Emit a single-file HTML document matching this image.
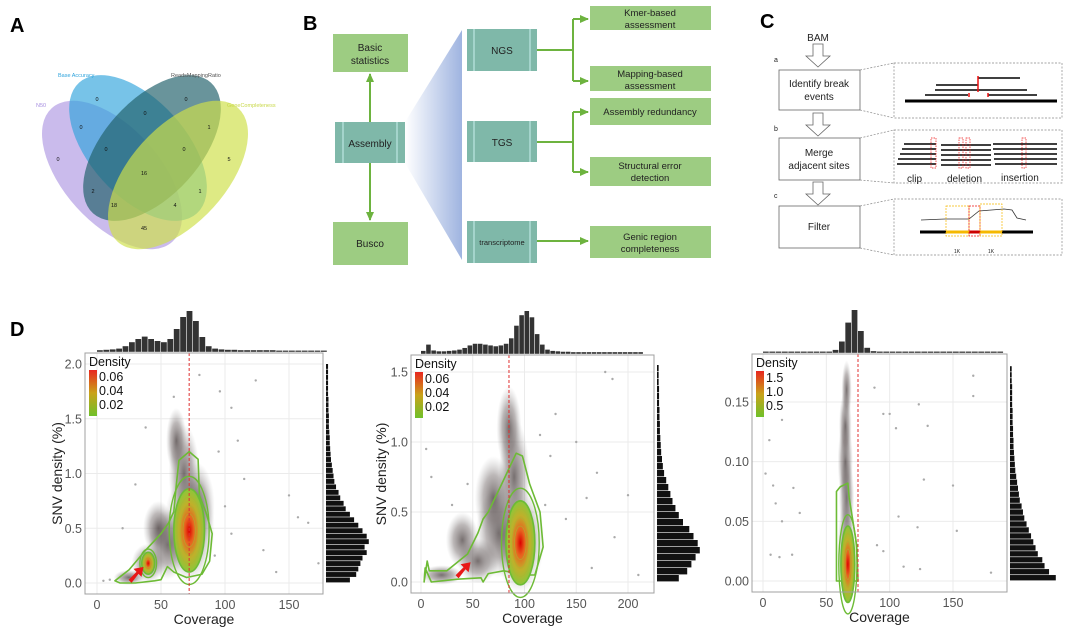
<!DOCTYPE html>
<html><head><meta charset="utf-8"><style>
body{margin:0;background:#fff;font-family:"Liberation Sans",sans-serif}
svg text{font-family:"Liberation Sans",sans-serif}
</style></head><body>
<svg id="fig" width="1080" height="631" viewBox="0 0 1080 631">
<defs>
<linearGradient id="funnel" x1="0" x2="1" y1="0" y2="0"><stop offset="0" stop-color="#fff"/><stop offset="1" stop-color="#9fb4e0"/></linearGradient>
<linearGradient id="cbar" x1="0" x2="0" y1="0" y2="1"><stop offset="0" stop-color="#e8261e"/><stop offset=".5" stop-color="#c9a21a"/><stop offset="1" stop-color="#6fc02a"/></linearGradient>
<radialGradient id="hot"><stop offset="0" stop-color="#d00"/><stop offset=".3" stop-color="#e8601e"/><stop offset=".65" stop-color="#c0b02a"/><stop offset="1" stop-color="#8cc63a"/></radialGradient>
<radialGradient id="cloud"><stop offset="0" stop-color="#4a4040" stop-opacity=".75"/><stop offset=".55" stop-color="#6a6060" stop-opacity=".45"/><stop offset="1" stop-color="#999" stop-opacity="0"/></radialGradient>
<marker id="arr" markerUnits="userSpaceOnUse" markerWidth="10" markerHeight="10" refX="8" refY="5" orient="auto"><path d="M0,1 L9,5 L0,9 z" fill="#6db33f"/></marker>
</defs>

<text x="10" y="32" font-size="20" font-weight="bold">A</text>
<text x="303" y="30" font-size="20" font-weight="bold">B</text>
<text x="760" y="28" font-size="20" font-weight="bold">C</text>
<text x="10" y="336" font-size="20" font-weight="bold">D</text>

<!-- Panel A Venn -->
<g>
<ellipse cx="112" cy="175" rx="90" ry="48" transform="rotate(48 112 175)" fill="#a78ee0" fill-opacity=".6"/>
<ellipse cx="138" cy="148" rx="88" ry="48" transform="rotate(48 138 148)" fill="#2ea3dc" fill-opacity=".65"/>
<ellipse cx="152" cy="148" rx="88" ry="48" transform="rotate(-48 152 148)" fill="#22616b" fill-opacity=".68"/>
<ellipse cx="178" cy="175" rx="90" ry="48" transform="rotate(-48 178 175)" fill="#cfe04a" fill-opacity=".68"/>
<text x="36" y="107" font-size="5.5" fill="#a78ee0">N50</text>
<text x="58" y="77" font-size="5.5" fill="#2ea3dc">Base Accuracy</text>
<text x="171" y="77" font-size="5.5" fill="#555">ReadsMappingRatio</text>
<text x="227" y="107" font-size="5.5" fill="#c8d848">GeneCompleteness</text>
<g font-size="5.5" fill="#111" text-anchor="middle">
<text x="97" y="101">0</text><text x="186" y="101">0</text><text x="81" y="129">0</text><text x="145" y="115">0</text><text x="209" y="129">1</text>
<text x="58" y="161">0</text><text x="106" y="151">0</text><text x="184" y="151">0</text><text x="229" y="161">5</text>
<text x="144" y="175">16</text><text x="93" y="193">2</text><text x="200" y="193">1</text><text x="114" y="207">18</text><text x="175" y="207">4</text><text x="144" y="230">45</text>
</g></g>

<!-- Panel B -->
<g font-size="10" fill="#222">
<polygon points="405,122 462,30 462,260 405,163" fill="url(#funnel)"/>
<rect x="333" y="34" width="75" height="38" fill="#9dcc82"/>
<text x="370" y="51" text-anchor="middle">Basic</text><text x="370" y="64" text-anchor="middle">statistics</text>
<rect x="335" y="122" width="70" height="41" fill="#7fb8a9"/>
<line x1="343" y1="122" x2="343" y2="163" stroke="#dff" stroke-width=".8"/><line x1="397" y1="122" x2="397" y2="163" stroke="#dff" stroke-width=".8"/>
<text x="370" y="147" text-anchor="middle">Assembly</text>
<rect x="333" y="222" width="75" height="43" fill="#9dcc82"/>
<text x="370" y="247" text-anchor="middle">Busco</text>
<line x1="370" y1="122" x2="370" y2="74" stroke="#6db33f" stroke-width="2" marker-end="url(#arr)"/>
<line x1="370" y1="163" x2="370" y2="220" stroke="#6db33f" stroke-width="2" marker-end="url(#arr)"/>
<g fill="#7fb8a9">
<rect x="467" y="29" width="70" height="42"/>
<rect x="467" y="121" width="70" height="41"/>
<rect x="467" y="221" width="70" height="42"/></g>
<g stroke="#dff" stroke-width=".8"><line x1="474" y1="29" x2="474" y2="71"/><line x1="530" y1="29" x2="530" y2="71"/><line x1="474" y1="121" x2="474" y2="162"/><line x1="530" y1="121" x2="530" y2="162"/><line x1="474" y1="221" x2="474" y2="263"/><line x1="530" y1="221" x2="530" y2="263"/></g>
<text x="502" y="54" text-anchor="middle">NGS</text><text x="502" y="146" text-anchor="middle">TGS</text><text x="502" y="245" text-anchor="middle" font-size="7.5">transcriptome</text>
<g fill="#9dcc82">
<rect x="590" y="6" width="121" height="24"/>
<rect x="590" y="66" width="121" height="25"/>
<rect x="590" y="98" width="121" height="27"/>
<rect x="590" y="157" width="121" height="29"/>
<rect x="590" y="226" width="121" height="32"/></g>
<g text-anchor="middle" font-size="9.5">
<text x="650" y="16">Kmer-based</text><text x="650" y="28">assessment</text>
<text x="650" y="77">Mapping-based</text><text x="650" y="89">assessment</text>
<text x="650" y="115">Assembly redundancy</text>
<text x="650" y="169">Structural error</text><text x="650" y="181">detection</text>
<text x="650" y="240">Genic region</text><text x="650" y="252">completeness</text></g>
<g stroke="#6db33f" stroke-width="2" fill="none">
<path d="M537,50 H573 M573,19 V81"/><path d="M573,19 H588" marker-end="url(#arr)"/><path d="M573,81 H588" marker-end="url(#arr)"/>
<path d="M537,142 H573 M573,112 V172"/><path d="M573,112 H588" marker-end="url(#arr)"/><path d="M573,172 H588" marker-end="url(#arr)"/>
<path d="M537,241 H588" marker-end="url(#arr)"/></g>
</g>

<!-- Panel C -->
<g font-size="10" fill="#222">
<text x="818" y="41" text-anchor="middle">BAM</text>
<g fill="#fff" stroke="#666" stroke-width=".8">
<path d="M813,44 h10 v12 h7 l-12,11 l-12,-11 h7 z"/>
<path d="M813,113 h10 v12 h7 l-12,11 l-12,-11 h7 z"/>
<path d="M813,182 h10 v12 h7 l-12,11 l-12,-11 h7 z"/>
<rect x="779" y="70" width="81" height="40"/>
<rect x="779" y="138" width="81" height="42"/>
<rect x="779" y="206" width="81" height="42"/></g>
<text x="774" y="62" font-size="7">a</text><text x="774" y="131" font-size="7">b</text><text x="774" y="198" font-size="7">c</text>
<text x="819" y="87" text-anchor="middle">Identify break</text><text x="819" y="100" text-anchor="middle">events</text>
<text x="819" y="156" text-anchor="middle">Merge</text><text x="819" y="169" text-anchor="middle">adjacent sites</text>
<text x="819" y="230" text-anchor="middle">Filter</text>
<g fill="none" stroke="#888" stroke-width=".7" stroke-dasharray="2,1.5">
<rect x="894" y="63" width="168" height="55"/><rect x="894" y="130" width="168" height="53"/><rect x="894" y="199" width="168" height="56"/>
<path d="M860,70 L894,63 M860,110 L894,118 M860,138 L894,130 M860,180 L894,183 M860,206 L894,199 M860,248 L894,255"/></g>
<g stroke="#000"><line x1="905" y1="101" x2="1057" y2="101" stroke-width="3"/><line x1="925" y1="95" x2="968" y2="95" stroke-width="1.5"/><line x1="935" y1="90" x2="1027" y2="90" stroke-width="1.5"/><line x1="936" y1="85" x2="978" y2="85" stroke-width="1.5"/><line x1="978" y1="78" x2="1020" y2="78" stroke-width="1.5"/><line x1="988" y1="95" x2="1037" y2="95" stroke-width="1.5"/></g>
<g stroke="#e11" stroke-width="1.5"><line x1="978" y1="76" x2="978" y2="92"/><line x1="969" y1="93" x2="969" y2="97"/><line x1="988" y1="93" x2="988" y2="97"/></g>
<g stroke="#000" stroke-width="1.5">
<path d="M904,144h32M902,149h34M900,154h36M898,159h38M897,164h39"/>
<path d="M941,145h50M941,150h50M941,155h50M941,160h50M941,165h50"/>
<path d="M993,144h64M993,149h64M994,154h63M994,159h63M995,164h62"/></g>
<g fill="none" stroke="#e11" stroke-width=".7" stroke-dasharray="1.5,1"><rect x="931" y="138" width="5" height="30"/><rect x="959" y="138" width="4" height="30"/><rect x="966" y="138" width="4" height="30"/><rect x="1022" y="138" width="4" height="30"/></g>
<text x="907" y="182" font-size="10">clip</text><text x="947" y="182" font-size="10">deletion</text><text x="1001" y="181" font-size="10">insertion</text>
<path d="M921,220 L945,219 L969,219 L979,211 L1004,209 L1012,210 L1017,218 L1026,220" fill="none" stroke="#333" stroke-width=".8"/>
<line x1="920" y1="232" x2="1033" y2="232" stroke="#000" stroke-width="3"/>
<line x1="946" y1="232" x2="969" y2="232" stroke="#f5b800" stroke-width="3"/><line x1="969" y1="232" x2="980" y2="232" stroke="#c00" stroke-width="3"/><line x1="980" y1="232" x2="1002" y2="232" stroke="#f5b800" stroke-width="3"/>
<g fill="none" stroke-dasharray="2,1" stroke-width=".7"><rect x="946" y="206" width="23" height="30" stroke="#f5b800"/><rect x="969" y="206" width="11" height="30" stroke="#e11"/><rect x="980" y="204" width="22" height="32" stroke="#f5b800"/></g>
<text x="957" y="253" font-size="5" text-anchor="middle">1K</text><text x="991" y="253" font-size="5" text-anchor="middle">1K</text>
</g>

<g id="d1"></g>
<g id="d2"></g>
<g id="d3"></g>
</svg>
<script>
// ---- Panel D1 data ----
const d1XTicks=[0,50,100,150];
const d1YTicks=[0.0,0.5,1.0,1.5,2.0];
const d1YTickLabels=["0.0","0.5","1.0","1.5","2.0"];
const d1Legend=["0.06","0.04","0.02"];
const d1TopHist=[0.02,0.03,0.04,0.06,0.12,0.22,0.3,0.36,0.3,0.25,0.22,0.3,0.55,0.85,1.0,0.75,0.35,0.12,0.06,0.04,0.03,0.03,0.02,0.02,0.02,0.02,0.02,0.02,0.01,0.01,0.01,0.01,0.01,0.01,0.01,0.01];
const d1RightHist=[0.55,0.7,0.75,0.8,0.85,0.95,0.9,1.0,0.95,0.85,0.75,0.65,0.55,0.45,0.4,0.32,0.28,0.22,0.18,0.16,0.14,0.12,0.1,0.09,0.08,0.07,0.07,0.06,0.05,0.05,0.05,0.04,0.04,0.04,0.03,0.03,0.03,0.03,0.03,0.03];
const d1CloudX=[72,40,55,25,68,62,78,48];
const d1CloudY=[0.5,0.18,0.35,0.05,1.0,1.3,0.7,0.5];
const d1CloudSX=[20,13,15,12,12,8,14,12];
const d1CloudSY=[0.5,0.18,0.32,0.07,0.45,0.3,0.4,0.25];
const d1HotX=[72,40];
const d1HotY=[0.48,0.18];
const d1HotRX=[12,5];
const d1HotRY=[0.38,0.1];
const d1OuterX=[14,25,38,50,56,60,62,64,72,79,80,85,90,88,82,70,60,55,50,45,30,18];
const d1OuterY=[0.02,0.12,0.3,0.45,0.55,0.65,0.9,1.12,1.2,1.13,0.8,0.65,0.45,0.2,0.08,0.05,0.1,0.15,0.03,0.02,0.0,0.0];
const d1Outliers=[[38,1.42],[96,1.75],[124,1.85],[105,1.6],[150,0.8],[157,0.6],[165,0.55],[173,0.18],[130,0.3],[115,0.95],[5,0.02],[10,0.03],[140,0.1],[80,1.9],[60,1.7],[110,1.3],[95,1.2],[100,0.7],[105,0.45],[92,0.25],[20,0.5],[30,0.9]];
const d1Vline=72;

// ---- Panel D2 data ----
const d2XTicks=[0,50,100,150,200];
const d2YTicks=[0.0,0.5,1.0,1.5];
const d2YTickLabels=["0.0","0.5","1.0","1.5"];
const d2Legend=["0.06","0.04","0.02"];
const d2TopHist=[0.05,0.2,0.06,0.04,0.04,0.05,0.06,0.08,0.12,0.18,0.22,0.22,0.2,0.18,0.16,0.18,0.22,0.35,0.65,0.9,1.0,0.85,0.45,0.2,0.08,0.05,0.04,0.03,0.03,0.02,0.02,0.02,0.02,0.02,0.02,0.02,0.02,0.02,0.02,0.02,0.02,0.02,0.02];
const d2RightHist=[0.5,0.7,0.8,0.9,1.0,0.95,0.85,0.75,0.6,0.5,0.42,0.35,0.3,0.25,0.2,0.15,0.12,0.1,0.08,0.07,0.06,0.05,0.05,0.04,0.04,0.03,0.03,0.03,0.02,0.02,0.02];
const d2CloudX=[95,55,75,20,90,85,70,40];
const d2CloudY=[0.3,0.15,0.35,0.05,0.75,1.1,0.6,0.3];
const d2CloudSX=[24,20,22,20,15,12,18,16];
const d2CloudSY=[0.38,0.16,0.32,0.07,0.42,0.3,0.3,0.2];
const d2HotX=[96];
const d2HotY=[0.28];
const d2HotRX=[14];
const d2HotRY=[0.3];
const d2OuterX=[3,6,8,25,45,55,60,65,78,92,98,105,115,118,110,100,80,65,60,58,35,10,4];
const d2OuterY=[0.0,0.15,0.08,0.08,0.2,0.35,0.45,0.5,0.7,0.92,0.9,0.7,0.5,0.25,0.05,0.05,0.08,0.06,0.0,0.03,0.02,0.0,0.1];
const d2Outliers=[[178,1.5],[185,1.45],[200,0.62],[170,0.78],[160,0.6],[187,0.32],[140,0.45],[150,1.0],[130,1.2],[5,0.95],[10,0.75],[120,0.55],[210,0.05],[165,0.1],[125,0.9],[115,1.05],[30,0.55],[45,0.7]];
const d2Vline=85;

// ---- Panel D3 data ----
const d3XTicks=[0,50,100,150];
const d3YTicks=[0.0,0.05,0.10,0.15];
const d3YTickLabels=["0.00","0.05","0.10","0.15"];
const d3Legend=["1.5","1.0","0.5"];
const d3TopHist=[0.01,0.01,0.01,0.01,0.01,0.01,0.01,0.01,0.01,0.01,0.01,0.05,0.25,0.7,1.0,0.5,0.1,0.02,0.01,0.01,0.01,0.01,0.01,0.01,0.01,0.01,0.01,0.01,0.01,0.01,0.01,0.01,0.01,0.01,0.01,0.01,0.01,0.01];
const d3RightHist=[1.0,0.85,0.75,0.7,0.6,0.55,0.5,0.45,0.4,0.35,0.3,0.27,0.24,0.2,0.18,0.16,0.14,0.12,0.1,0.09,0.08,0.07,0.06,0.06,0.05,0.05,0.04,0.04,0.04,0.03,0.03,0.03,0.03,0.02,0.02,0.02];
const d3CloudX=[66,66,65,65,66];
const d3CloudY=[0.03,0.07,0.1,0.13,0.16];
const d3CloudSX=[7,6,6,5,4];
const d3CloudSY=[0.04,0.035,0.035,0.03,0.025];
const d3HotX=[67];
const d3HotY=[0.014];
const d3HotRX=[5.5];
const d3HotRY=[0.032];
const d3OuterX=[58,58,61,67,68,74,75,58];
const d3OuterY=[0.0,0.075,0.079,0.082,0.07,0.03,0.0,0.0];
const d3Outliers=[[5,0.118],[15,0.135],[2,0.09],[8,0.08],[10,0.065],[15,0.05],[24,0.078],[29,0.057],[6,0.022],[13,0.02],[23,0.022],[88,0.162],[95,0.14],[100,0.14],[105,0.128],[130,0.13],[123,0.148],[127,0.085],[150,0.08],[166,0.172],[166,0.155],[153,0.042],[122,0.045],[107,0.054],[90,0.03],[95,0.025],[180,0.007],[111,0.012],[124,0.01]];
const d3Vline=75;

const NS="http://www.w3.org/2000/svg";
function mk(parent,tag,attrs){const e=document.createElementNS(NS,tag);for(const k in attrs)e.setAttribute(k,attrs[k]);parent.appendChild(e);return e;}

function drawPanel(g,cfg){
  const X=v=>cfg.x0px+(v-cfg.xmin)*(cfg.x1px-cfg.x0px)/(cfg.xmax-cfg.xmin);
  const Y=v=>cfg.y0px-(v-cfg.ymin)*(cfg.y0px-cfg.y1px)/(cfg.ymax-cfg.ymin);
  const sx=Math.abs(X(1)-X(0)), sy=Math.abs(Y(1)-Y(0));
  const bg=mk(g,'rect',{x:cfg.left,y:cfg.top,width:cfg.right-cfg.left,height:cfg.bottom-cfg.top,fill:'#fff'});
  
  
  cfg.xTicks.forEach(t=>{const l=mk(g,'line',{x1:X(t),x2:X(t),y1:cfg.top,y2:cfg.bottom,stroke:'#ebebeb','stroke-width':1});
    
    });
  cfg.yTicks.forEach(t=>{const l=mk(g,'line',{x1:cfg.left,x2:cfg.right,y1:Y(t),y2:Y(t),stroke:'#ebebeb','stroke-width':1});
    
    });
  cfg.cloudX.forEach((cx,i)=>{const e=mk(g,'ellipse',{cx:X(cx),cy:Y(cfg.cloudY[i]),rx:cfg.cloudSX[i]*sx,ry:cfg.cloudSY[i]*sy,fill:'url(#cloud)'});
    
    });
  cfg.outliers.forEach(p=>{const c=mk(g,'circle',{cx:X(p[0]),cy:Y(p[1]),r:1.2,fill:'#aaa'});
    
    });
  const pts=cfg.outerX.map((x,i)=>X(x)+','+Y(cfg.outerY[i])).join(' ');
  const pg=mk(g,'polygon',{points:pts,fill:'none',stroke:'#6dbb35','stroke-width':1.6,'stroke-linejoin':'round'});
  
  
  cfg.hotX.forEach((hx,i)=>{
    const cx=X(hx),cy=Y(cfg.hotY[i]),rx=cfg.hotRX[i]*sx,ry=cfg.hotRY[i]*sy;
    const e=mk(g,'ellipse',{cx,cy,rx,ry,fill:'url(#hot)',stroke:'#6dbb35','stroke-width':1.6});
    
    
    [0.8,0.6,0.4].forEach(f=>{const r=mk(g,'ellipse',{cx,cy,rx:rx*f,ry:ry*f,fill:'none',stroke:'#a8b630','stroke-width':.7,'stroke-opacity':.7});
      
      });
    const r2=mk(g,'ellipse',{cx,cy,rx:rx*1.3,ry:ry*1.3,fill:'none',stroke:'#6dbb35','stroke-width':1.4});
    
    
  });
  const vl=mk(g,'line',{x1:X(cfg.vline),x2:X(cfg.vline),y1:cfg.top,y2:cfg.bottom,stroke:'#e03030','stroke-width':1,'stroke-dasharray':'3,2'});
  
  
  if(cfg.arrow){const a=cfg.arrow;const ax=X(a[0]),ay=Y(a[1]);
    const ar=mk(g,'path',{d:`M${ax-12},${ay+10} L${ax-4},${ay+2} L${ax-7},${ay-1} L${ax+3},${ay-3} L${ax+1},${ay+7} L${ax-2},${ay+4} L${ax-9},${ay+13} z`,fill:'#e81818'});
    
    }
  const fr=mk(g,'rect',{x:cfg.left,y:cfg.top,width:cfg.right-cfg.left,height:cfg.bottom-cfg.top,fill:'none',stroke:'#a0a0a0','stroke-width':1});
  
  
  cfg.xTicks.forEach(t=>{const tx=mk(g,'text',{x:X(t),y:cfg.bottom+15,'font-size':12.5,fill:'#555','text-anchor':'middle'});tx.textContent=t;
    
    });
  cfg.yTicks.forEach((t,i)=>{const tx=mk(g,'text',{x:cfg.left-3,y:Y(t)+4.5,'font-size':12.5,fill:'#555','text-anchor':'end'});tx.textContent=cfg.yTickLabels[i];
    
    });
  const xt=mk(g,'text',{x:(cfg.left+cfg.right)/2,y:cfg.bottom+30,'font-size':14,fill:'#222','text-anchor':'middle'});xt.textContent='Coverage';
  
  
  if(cfg.ytitle){const yt=mk(g,'text',{x:0,y:0,'font-size':14,fill:'#222','text-anchor':'middle',transform:`translate(${cfg.ytitleX},${(cfg.top+cfg.bottom)/2}) rotate(-90)`});yt.textContent='SNV density (%)';
    
    }
  const lx=cfg.left+4, ly=cfg.top+2;
  const lt=mk(g,'text',{x:lx,y:ly+11,'font-size':12.5,fill:'#111'});lt.textContent='Density';
  
  
  const cb=mk(g,'rect',{x:lx,y:ly+15,width:8,height:46,fill:'url(#cbar)'});
  
  
  cfg.legend.forEach((s,i)=>{const t=mk(g,'text',{x:lx+10,y:ly+26+i*14,'font-size':12.5,fill:'#111'});t.textContent=s;
    
    });
  const bw=(X(cfg.topBin)-X(0));
  cfg.topHist.forEach((h,i)=>{const x=X(i*cfg.topBin);const hh=h*cfg.topH;
    const r=mk(g,'rect',{x:x,y:cfg.top-2-hh,width:Math.max(bw-0.6,0.5),height:hh+0.8,fill:'#333'});
    
    });
  const bh=Math.abs(Y(cfg.rightBin)-Y(0));
  cfg.rightHist.forEach((h,i)=>{const y=Y((i+1)*cfg.rightBin);const ww=h*cfg.rightW;
    const r=mk(g,'rect',{x:cfg.right+3,y:y,width:ww+0.8,height:Math.max(bh-0.6,0.5),fill:'#111'});
    
    });
}

drawPanel(document.getElementById('d1'),{left:85,right:323,top:353,bottom:594,x0px:97,x1px:289,xmin:0,xmax:150,y0px:583,y1px:364,ymin:0,ymax:2,
 xTicks:d1XTicks,yTicks:d1YTicks,yTickLabels:d1YTickLabels,legend:d1Legend,topHist:d1TopHist,rightHist:d1RightHist,topBin:5,rightBin:0.05,topH:40,rightW:42,
 cloudX:d1CloudX,cloudY:d1CloudY,cloudSX:d1CloudSX,cloudSY:d1CloudSY,hotX:d1HotX,hotY:d1HotY,hotRX:d1HotRX,hotRY:d1HotRY,outerX:d1OuterX,outerY:d1OuterY,outliers:d1Outliers,vline:d1Vline,arrow:[34,0.12],ytitle:true,ytitleX:62});
drawPanel(document.getElementById('d2'),{left:411,right:654,top:355,bottom:593,x0px:421,x1px:628,xmin:0,xmax:200,y0px:582,y1px:372,ymin:0,ymax:1.5,
 xTicks:d2XTicks,yTicks:d2YTicks,yTickLabels:d2YTickLabels,legend:d2Legend,topHist:d2TopHist,rightHist:d2RightHist,topBin:5,rightBin:0.05,topH:42,rightW:42,
 cloudX:d2CloudX,cloudY:d2CloudY,cloudSX:d2CloudSX,cloudSY:d2CloudSY,hotX:d2HotX,hotY:d2HotY,hotRX:d2HotRX,hotRY:d2HotRY,outerX:d2OuterX,outerY:d2OuterY,outliers:d2Outliers,vline:d2Vline,arrow:[45,0.12],ytitle:true,ytitleX:386});
drawPanel(document.getElementById('d3'),{left:752,right:1007,top:354,bottom:592,x0px:763,x1px:953,xmin:0,xmax:150,y0px:581,y1px:402,ymin:0,ymax:0.15,
 xTicks:d3XTicks,yTicks:d3YTicks,yTickLabels:d3YTickLabels,legend:d3Legend,topHist:d3TopHist,rightHist:d3RightHist,topBin:5,rightBin:0.005,topH:42,rightW:45,
 cloudX:d3CloudX,cloudY:d3CloudY,cloudSX:d3CloudSX,cloudSY:d3CloudSY,hotX:d3HotX,hotY:d3HotY,hotRX:d3HotRX,hotRY:d3HotRY,outerX:d3OuterX,outerY:d3OuterY,outliers:d3Outliers,vline:d3Vline,arrow:null,ytitle:false});
</script>
</body></html>
